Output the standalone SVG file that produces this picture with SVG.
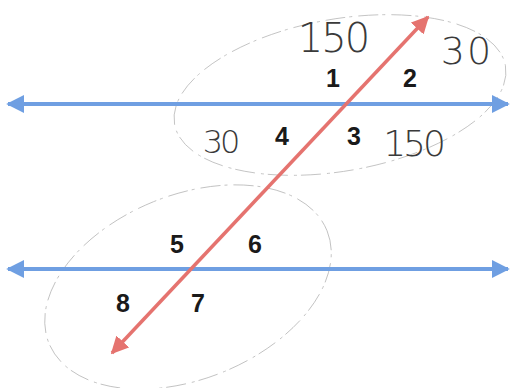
<svg xmlns="http://www.w3.org/2000/svg" width="510" height="388" viewBox="0 0 510 388">
<style>
.blue{stroke:#6f9fe2;stroke-width:4;fill:none}
.red{stroke:#e5736f;stroke-width:3.5;fill:none}
.num{font-family:"Liberation Sans",Arial,sans-serif;font-weight:bold;font-size:25px;fill:#1a1a1a;text-anchor:middle}
.hand{font-family:"DejaVu Sans",sans-serif;font-weight:200;fill:#3a3a3a;text-anchor:middle}
.loop{stroke:#b0b0b0;stroke-width:0.7;fill:none;stroke-dasharray:20 4 3 6}
</style>
<defs>
<marker id="ab" viewBox="0 0 10 10" refX="9" refY="5" markerWidth="4.5" markerHeight="4.5" orient="auto-start-reverse" markerUnits="strokeWidth"><path d="M0,0 L10,5 L0,10 z" fill="#6f9fe2"/></marker>
<marker id="ar" viewBox="0 0 10 10" refX="9" refY="5" markerWidth="5" markerHeight="5" orient="auto-start-reverse" markerUnits="strokeWidth"><path d="M0,0 L10,5 L0,10 z" fill="#e5736f"/></marker>
</defs>
<rect width="510" height="388" fill="#fff"/>
<g id="loops">
<ellipse class="loop" cx="340" cy="95" rx="168" ry="76" transform="rotate(-10 340 95)"/>
<ellipse class="loop" cx="188" cy="287" rx="150" ry="92" transform="rotate(-22 188 287)"/>
</g>
<g id="connectors">
<line id="line-top" class="blue" x1="8" y1="104" x2="508" y2="104" marker-start="url(#ab)" marker-end="url(#ab)"/>
<line id="line-bottom" class="blue" x1="8" y1="269" x2="508" y2="269" marker-start="url(#ab)" marker-end="url(#ab)"/>
<line id="transversal" class="red" x1="112" y1="353" x2="428" y2="17" marker-start="url(#ar)" marker-end="url(#ar)"/>
</g>
<g id="angle-1"><text class="num" x="333" y="87">1</text></g>
<g id="angle-2"><text class="num" x="410" y="87">2</text></g>
<g id="angle-3"><text class="num" x="354" y="145">3</text></g>
<g id="angle-4"><text class="num" x="282" y="145">4</text></g>
<g id="angle-5"><text class="num" x="177" y="253">5</text></g>
<g id="angle-6"><text class="num" x="255" y="253">6</text></g>
<g id="angle-7"><text class="num" x="198" y="312">7</text></g>
<g id="angle-8"><text class="num" x="123" y="312">8</text></g>
<g id="handwritten">
<text class="hand" x="333" y="52" font-size="40" letter-spacing="-2">150</text>
<text class="hand" x="467" y="64" font-size="38" letter-spacing="2">30</text>
<text class="hand" x="220" y="153" font-size="32" letter-spacing="-3">30</text>
<text class="hand" x="413" y="156" font-size="36" letter-spacing="-3">150</text>
</g>
</svg>
